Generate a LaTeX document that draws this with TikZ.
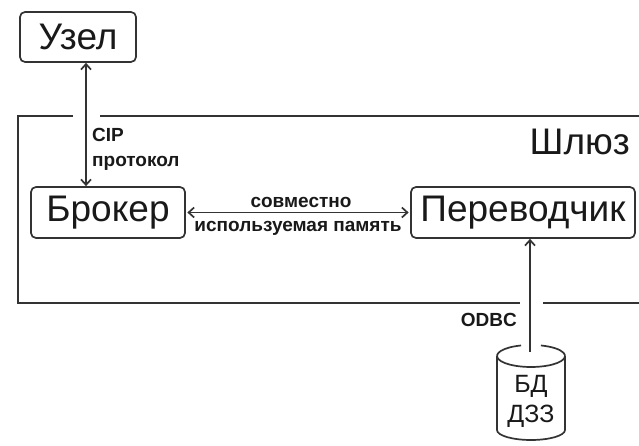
\documentclass[tikz,border=0pt]{standalone}
\usepackage{fontspec}
\setmainfont{Liberation Sans}
\usetikzlibrary{arrows.meta}
\tikzset{
  line/.style={draw=black!80, line width=1.7pt},
  box/.style={draw=black!80, line width=1.7pt, rounded corners=5pt, inner sep=0pt, text=black!90, font=\fontsize{37}{42}\selectfont},
  biglbl/.style={inner sep=0pt, text=black!90, font=\fontsize{37}{42}\selectfont},
  lbl/.style={font=\bfseries\fontsize{19}{21}\selectfont, inner sep=0pt, text=black!90},
  dblbl/.style={font=\fontsize{25}{28}\selectfont, inner sep=0pt, text=black!90},
  barb/.tip={Straight Barb[length=5.5pt,width=10pt]}
}
\begin{document}
\begin{tikzpicture}[x=1pt,y=1pt]
\useasboundingbox (0,0) rectangle (639,446);
\fill[white] (0,0) rectangle (639,446);

% gateway frame (open on the right)
\draw[line] (73,330) -- (18,330) -- (18,143) -- (520,143);
\draw[line] (100,330) -- (639,330);
\draw[line] (543,143) -- (639,143);

% boxes
\node[box, minimum width=116pt, minimum height=50pt] (uzel) at (78,409) {Узел};
\node[box, minimum width=154pt, minimum height=51pt] (broker) at (108,233.5) {Брокер};
\node[box, minimum width=224pt, minimum height=51pt] (trans) at (523,233.5) {Переводчик};

% labels
\node[biglbl, anchor=base east] (shluz) at (630,291) {Шлюз};
\node[lbl, anchor=base west] (cip) at (92,304) {CIP};
\node[lbl, anchor=base west] (prot) at (92,279) {протокол};
\node[lbl, anchor=base] (sovm) at (301,238) {совместно};
\node[lbl, anchor=base] (isp) at (298,214) {используемая память};
\node[lbl, anchor=base east] (odbc) at (517,119) {ODBC};

% database cylinder
\draw[line] (497,90) -- (497,16) arc[start angle=180, end angle=360, x radius=34, y radius=10] -- (565,90);
\draw[line] (531,90) ++(107:34 and 11) arc[start angle=107, end angle=433, x radius=34, y radius=11];
\node[dblbl, anchor=base] (dba) at (531,53) {БД};
\node[dblbl, anchor=base] (dbb) at (531,23) {ДЗЗ};

% connectors
\coordinate (cipx) at (86,0);
\coordinate (dbin) at (530,94);
\draw[line, barb-barb] (uzel.south -| cipx) -- (broker.north -| cipx);
\draw[line, barb-barb, shorten <=1.5pt, shorten >=1.5pt] (broker.east) -- (trans.west);
\draw[line, -barb] (dbin) -- (trans.south -| dbin);
\end{tikzpicture}
\end{document}
